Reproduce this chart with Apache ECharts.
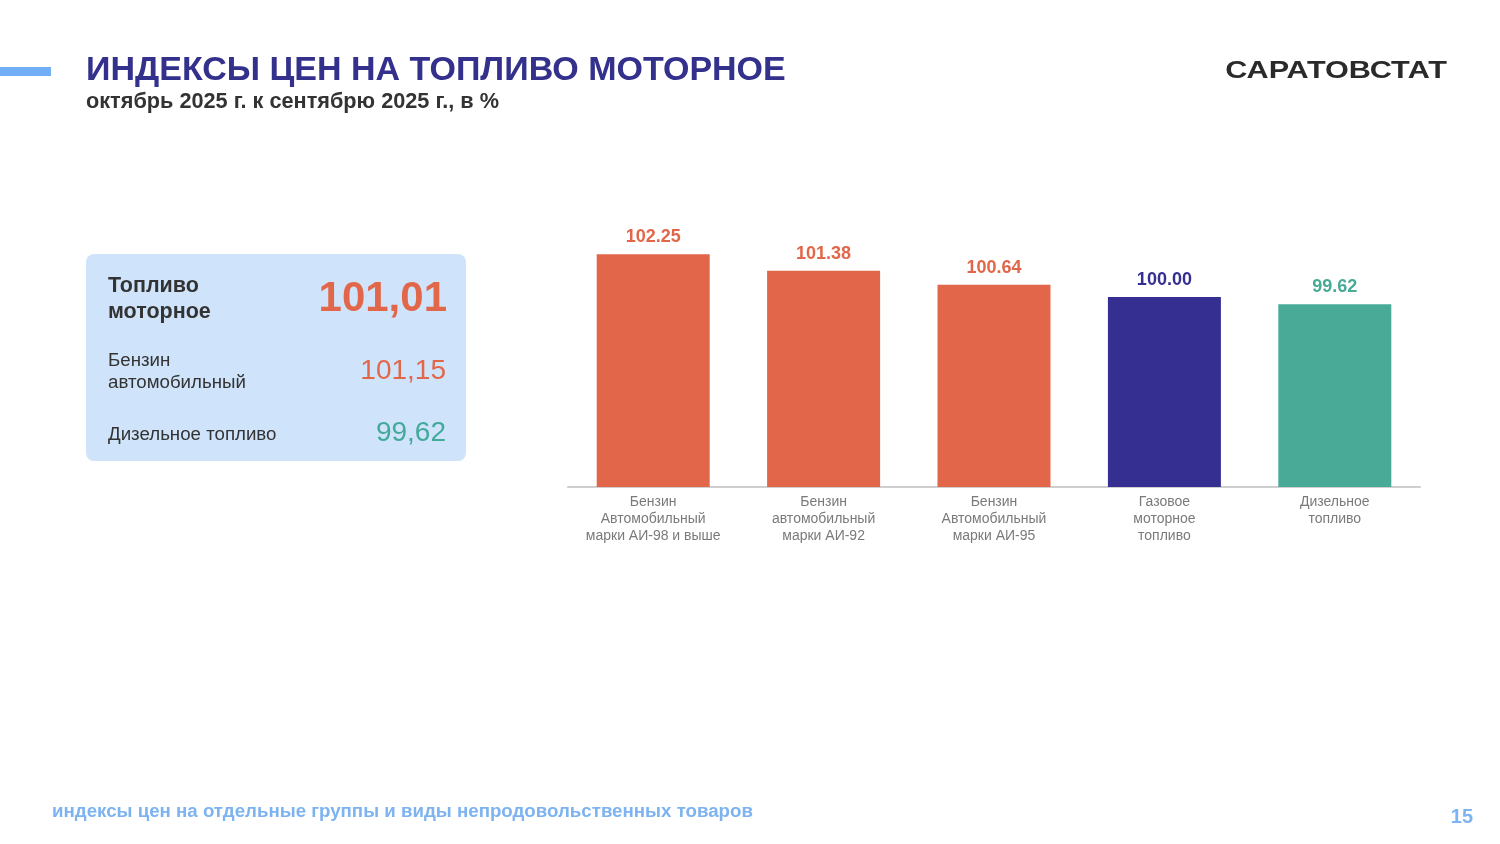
<!DOCTYPE html>
<html><head><meta charset="utf-8">
<script src="https://cdn.jsdelivr.net/npm/echarts@6/dist/echarts.min.js"></script>
<style>html,body{margin:0;padding:0;background:#fff;}#c{width:1500px;height:844px;}</style>
</head><body><div id="c"></div>
<script>
const categories = ['Бензин\nАвтомобильный\nмарки АИ-98 и выше','Бензин\nавтомобильный\nмарки АИ-92','Бензин\nАвтомобильный\nмарки АИ-95','Газовое\nмоторное\nтопливо','Дизельное\nтопливо'];
const values = [102.25, 101.38, 100.64, 100.00, 99.62];
const barColors = ['#e2674a','#e2674a','#e2674a','#352f91','#48aa97'];
const summaryLabels = ['Топливо\nмоторное','Бензин\nавтомобильный','Дизельное топливо'];
const summaryValues = ['101,01','101,15','99,62'];
const FONT = '"Liberation Sans", Arial, sans-serif';
const chart = echarts.init(document.getElementById('c'));
chart.setOption({
  backgroundColor:'#fff',
  animation:false,
  grid:{left:568,right:80,top:240,bottom:357},
  xAxis:{type:'category',data:categories,
    axisLine:{lineStyle:{color:'#cfcfcf',width:2}},axisTick:{show:false},
    axisLabel:{color:'#7a7a7a',fontSize:14,lineHeight:17,fontFamily:FONT,interval:0,margin:7}},
  yAxis:{type:'value',min:90,max:103,show:false,splitLine:{show:false}},
  series:[{type:'bar',barWidth:113,
    data:values.map((v,i)=>({value:v,itemStyle:{color:barColors[i]},label:{color:barColors[i]}})),
    label:{show:true,position:'top',distance:8,fontSize:18,fontWeight:'bold',fontFamily:FONT,
      formatter:p=>p.value.toFixed(2)}}],
  graphic:[
    {type:'rect',shape:{x:0,y:67,width:51,height:9},style:{fill:'#72aef5'}},
    {type:'text',x:86,y:71,style:{text:'ИНДЕКСЫ ЦЕН НА ТОПЛИВО МОТОРНОЕ',font:'bold 34px '+FONT,fill:'#33318c',textVerticalAlign:'middle'}},
    {type:'text',x:86,y:102,style:{text:'октябрь 2025 г. к сентябрю 2025 г., в %',font:'bold 21.7px '+FONT,fill:'#333',textVerticalAlign:'middle'}},
    {type:'text',x:1447,y:71,scaleX:1.275,style:{text:'САРАТОВСТАТ',font:'bold 24px '+FONT,fill:'#2a2a2a',textAlign:'right',textVerticalAlign:'middle'}},
    {type:'rect',shape:{x:86,y:254,width:380,height:207,r:8},style:{fill:'#cfe4fb'}},
    {type:'text',x:108,y:299,style:{text:summaryLabels[0],font:'bold 21.5px '+FONT,lineHeight:26,fill:'#333',textVerticalAlign:'middle'}},
    {type:'text',x:447,y:299,style:{text:summaryValues[0],font:'bold 42px '+FONT,fill:'#e2674a',textAlign:'right',textVerticalAlign:'middle'}},
    {type:'text',x:108,y:372,style:{text:summaryLabels[1],font:'18.7px '+FONT,lineHeight:22,fill:'#333',textVerticalAlign:'middle'}},
    {type:'text',x:446,y:371,style:{text:summaryValues[1],font:'28px '+FONT,fill:'#e2674a',textAlign:'right',textVerticalAlign:'middle'}},
    {type:'text',x:108,y:435,style:{text:summaryLabels[2],font:'18.7px '+FONT,fill:'#333',textVerticalAlign:'middle'}},
    {type:'text',x:446,y:433,style:{text:summaryValues[2],font:'28px '+FONT,fill:'#43a99a',textAlign:'right',textVerticalAlign:'middle'}},
    {type:'text',x:52,y:812,style:{text:'индексы цен на отдельные группы и виды непродовольственных товаров',font:'bold 18.7px '+FONT,fill:'#7cb3f0',textVerticalAlign:'middle'}},
    {type:'text',x:1473,y:817,style:{text:'15',font:'bold 20px '+FONT,fill:'#7cb3f0',textAlign:'right',textVerticalAlign:'middle'}}
  ]
});
</script></body></html>
